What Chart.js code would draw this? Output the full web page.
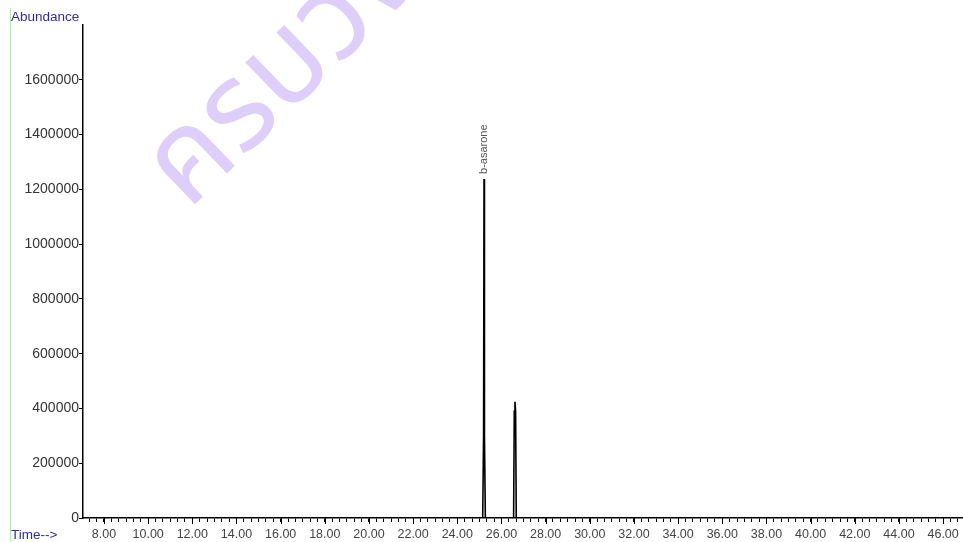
<!DOCTYPE html>
<html>
<head>
<meta charset="utf-8">
<script src="https://cdn.jsdelivr.net/npm/chart.js@4.4.1/dist/chart.umd.min.js"></script>
<style>
  body { margin: 0; background: #fff; }
  canvas { display: block; }
</style>
</head>
<body>
<canvas id="chart" width="963" height="542"></canvas>
<script>
'use strict';

// DATA
let times = [7.05, 25.15, 25.19, 25.21, 25.23, 25.27, 26.55, 26.58, 26.61, 26.64, 26.67, 46.9];
let abundance = [0, 0, 300000, 1238000, 300000, 0, 0, 390000, 424000, 390000, 0, 0];

let yTickValues = [0, 200000, 400000, 600000, 800000, 1000000, 1200000, 1400000, 1600000];
let xTickValues = [8, 10, 12, 14, 16, 18, 20, 22, 24, 26, 28, 30, 32, 34, 36, 38, 40, 42, 44, 46];
let xTickLabels = ['8.00', '10.00', '12.00', '14.00', '16.00', '18.00', '20.00', '22.00', '24.00', '26.00',
  '28.00', '30.00', '32.00', '34.00', '36.00', '38.00', '40.00', '42.00', '44.00', '46.00'];

let peakTimes = [25.21];
let peakValues = [1238000];
let peakNames = ['b-asarone'];

let watermark = 'ครบวงจร';

function majorLabel(v) {
  for (let i = 0; i < xTickValues.length; i++) {
    if (Math.abs(v - xTickValues[i]) < 1e-6) return xTickLabels[i];
  }
  return '';
}

// extra bits drawn on top: frame, axis titles, peak label, watermark
const extras = {
  id: 'extras',
  afterDraw(chart) {
    const ctx = chart.ctx;
    const x = chart.scales.x;
    const y = chart.scales.y;

    ctx.save();
    // longer marks for the labelled ticks
    ctx.strokeStyle = '#000';
    ctx.lineWidth = 1;
    for (let i = 0; i < xTickValues.length; i++) {
      let px = Math.round(x.getPixelForValue(xTickValues[i])) + 0.5;
      ctx.beginPath();
      ctx.moveTo(px, y.bottom);
      ctx.lineTo(px, y.bottom + 6);
      ctx.stroke();
    }

    // light green frame line on the left
    ctx.strokeStyle = '#b9e3b9';
    ctx.beginPath();
    ctx.moveTo(10.5, 8);
    ctx.lineTo(10.5, 542);
    ctx.stroke();

    // axis titles
    ctx.fillStyle = '#2e2e9a';
    ctx.font = '13.5px "Liberation Sans", Arial, sans-serif';
    ctx.textBaseline = 'middle';
    ctx.textAlign = 'left';
    ctx.fillText('Abundance', 11, 17);
    ctx.fillText('Time-->', 11, 535);

    // peak label
    ctx.fillStyle = '#555';
    ctx.font = '11px "Liberation Sans", Arial, sans-serif';
    for (let i = 0; i < peakNames.length; i++) {
      let px = x.getPixelForValue(peakTimes[i]);
      let py = y.getPixelForValue(peakValues[i]);
      ctx.save();
      ctx.translate(px, py - 5);
      ctx.rotate(-Math.PI / 2);
      ctx.textAlign = 'left';
      ctx.textBaseline = 'middle';
      ctx.fillText(peakNames[i], 0, 0);
      ctx.restore();
    }

    // watermark
    ctx.save();
    ctx.translate(188, 211);
    ctx.rotate(-44 * Math.PI / 180);
    ctx.fillStyle = 'rgb(221, 207, 250)';
    ctx.font = '122px "Noto Sans Thai", "Noto Sans", "DejaVu Sans", sans-serif';
    ctx.textAlign = 'left';
    ctx.textBaseline = 'alphabetic';
    ctx.fillText(watermark, 0, 0);
    ctx.restore();

    ctx.restore();
  }
};

new Chart(document.getElementById('chart'), {
  type: 'scatter',
  data: {
    datasets: [{
      data: times.map((t, i) => ({ x: t, y: abundance[i] })),
      showLine: true,
      borderColor: '#000',
      borderWidth: 1.6,
      pointRadius: 0,
      tension: 0
    }]
  },
  options: {
    responsive: false,
    animation: false,
    layout: { padding: { top: 25, right: 0, left: 0, bottom: 0 } },
    plugins: { legend: { display: false }, tooltip: { enabled: false } },
    scales: {
      x: {
        type: 'linear',
        min: 7.05,
        max: 46.9,
        afterFit(scale) { scale.height = 24; },
        afterBuildTicks(scale) {
          let ticks = [];
          for (let i = 22; i <= 140; i++) ticks.push({ value: i / 3 });
          scale.ticks = ticks;
        },
        border: { display: true, color: '#000', width: 1.5 },
        grid: { display: true, drawOnChartArea: false, drawTicks: true, tickLength: 4, color: '#000', lineWidth: 1 },
        ticks: {
          autoSkip: false,
          maxRotation: 0,
          minRotation: 0,
          padding: 5,
          color: '#444',
          font: { family: '"Liberation Sans", Arial, sans-serif', size: 12.5 },
          callback: (v) => majorLabel(v)
        }
      },
      y: {
        min: 0,
        max: 1800000,
        afterFit(scale) { scale.width = 83; },
        afterBuildTicks(scale) {
          scale.ticks = yTickValues.map(v => ({ value: v }));
        },
        border: { display: true, color: '#000', width: 1.5 },
        grid: { display: true, drawOnChartArea: false, drawTicks: true, tickLength: 4, color: '#000', lineWidth: 1 },
        ticks: {
          padding: 0,
          color: '#333',
          font: { family: '"Liberation Sans", Arial, sans-serif', size: 14 },
          callback: (v) => String(v)
        }
      }
    }
  },
  plugins: [extras]
});
</script>
</body>
</html>
